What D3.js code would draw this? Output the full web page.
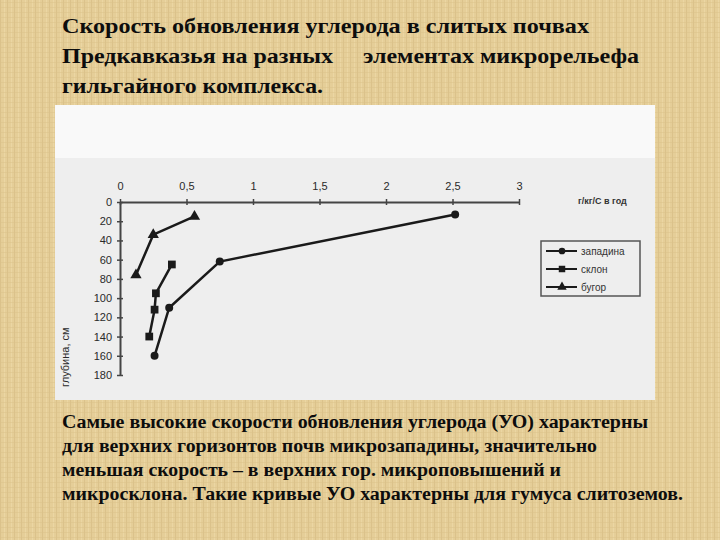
<!DOCTYPE html>
<html>
<head>
<meta charset="utf-8">
<script src="https://cdn.jsdelivr.net/npm/d3@7"></script>
<style>
  body { margin: 0; background: #e5ce98; }
  svg { display: block; }
</style>
</head>
<body>
<div id="chart"></div>
<script>
// data
var titleLines = ["Скорость обновления углерода в слитых почвах",
                  "Предкавказья на разных     элементах микрорельефа",
                  "гильгайного комплекса."];
var titleWidths = [527, 577, 261];
var noteLines = ["Самые высокие скорости обновления углерода (УО) характерны",
                 "для верхних горизонтов почв микрозападины, значительно",
                 "меньшая скорость – в верхних гор. микроповышений и",
                 "микросклона. Такие кривые УО характерны для гумуса слитоземов."];
var noteWidths = [586, 535, 499, 621];
var seriesNames = ["западина", "склон", "бугор"];
var zapadinaRate = [2.52, 0.75, 0.37, 0.26];
var zapadinaDepth = [13, 62, 110, 160];
var sklonRate = [0.39, 0.27, 0.26, 0.22];
var sklonDepth = [65, 95, 112, 140];
var bugorRate = [0.56, 0.25, 0.12];
var bugorDepth = [15, 34, 76];
var xTicks = [0, 0.5, 1, 1.5, 2, 2.5, 3];
var xTickLabels = ["0", "0,5", "1", "1,5", "2", "2,5", "3"];
var yTicks = [0, 20, 40, 60, 80, 100, 120, 140, 160, 180];
var xTitle = "г/кг/С в год";
var yTitle = "глубина, см";

var width = 720, height = 540;
var svg = d3.select("#chart").append("svg")
    .attr("width", width)
    .attr("height", height);

// parchment background
var defs = svg.append("defs");
var pat = defs.append("pattern")
    .attr("id", "cloth")
    .attr("patternUnits", "userSpaceOnUse")
    .attr("width", 7).attr("height", 5);
pat.append("rect").attr("width", 7).attr("height", 5).attr("fill", "#e5ce98");
pat.append("rect").attr("x", 0).attr("width", 1).attr("height", 5).attr("fill", "#d8be86").attr("opacity", 0.7);
pat.append("rect").attr("x", 4).attr("width", 1).attr("height", 5).attr("fill", "#eedaa9").attr("opacity", 0.7);
pat.append("rect").attr("y", 2).attr("width", 7).attr("height", 1).attr("fill", "#dbc28a").attr("opacity", 0.5);
svg.append("rect").attr("width", width).attr("height", height).attr("fill", "url(#cloth)");

// title
svg.append("g").selectAll("text")
    .data(titleLines)
    .join("text")
    .attr("x", 62)
    .attr("y", function(d, i) { return 33 + i * 30; })
    .attr("textLength", function(d, i) { return titleWidths[i]; })
    .attr("lengthAdjust", "spacingAndGlyphs")
    .attr("xml:space", "preserve")
    .style("white-space", "pre")
    .style("font-family", "'Liberation Serif', 'DejaVu Serif', serif")
    .style("font-weight", "bold")
    .style("font-size", "22px")
    .style("fill", "#0d0d0d")
    .text(function(d) { return d; });

// chart panel
svg.append("rect").attr("x", 55).attr("y", 105).attr("width", 600).attr("height", 295).attr("fill", "#eeeeee");
svg.append("rect").attr("x", 55).attr("y", 105).attr("width", 600).attr("height", 53).attr("fill", "#f9f9f9");

var x = d3.scaleLinear().domain([0, 3]).range([120, 519]);
var y = d3.scaleLinear().domain([0, 180]).range([202, 375]);

var xAxis = svg.append("g")
    .attr("transform", "translate(0," + y(0) + ")")
    .call(d3.axisTop(x).tickValues(xTicks)
        .tickFormat(function(d, i) { return xTickLabels[i]; })
        .tickSizeOuter(0).tickSizeInner(3).tickPadding(9));
xAxis.selectAll(".tick line").attr("y1", 3).attr("y2", -3);

var yAxis = svg.append("g")
    .attr("transform", "translate(" + x(0) + ",0)")
    .call(d3.axisLeft(y).tickValues(yTicks)
        .tickSizeOuter(0).tickSizeInner(3).tickPadding(5));
yAxis.selectAll(".tick line").attr("x1", 3).attr("x2", -3);

svg.selectAll(".domain").attr("stroke", "#444").attr("stroke-width", 2);
svg.selectAll(".tick line").attr("stroke", "#444").attr("stroke-width", 1.5);
svg.selectAll(".tick text")
    .style("font-family", "Arial, 'Liberation Sans', sans-serif")
    .style("font-size", "11px")
    .style("fill", "#2a2a2a");

svg.append("text")
    .attr("x", 578).attr("y", 204)
    .style("font-family", "Arial, 'Liberation Sans', sans-serif")
    .style("font-size", "9px")
    .style("font-weight", "bold")
    .style("fill", "#333")
    .text(xTitle);

svg.append("text")
    .attr("transform", "translate(69,387) rotate(-90)")
    .style("font-family", "Arial, 'Liberation Sans', sans-serif")
    .style("font-size", "11px")
    .style("fill", "#2a2a2a")
    .text(yTitle);

// series
var series = [
  { name: seriesNames[0], rate: zapadinaRate, depth: zapadinaDepth, shape: d3.symbolCircle, size: 50 },
  { name: seriesNames[1], rate: sklonRate, depth: sklonDepth, shape: d3.symbolSquare, size: 60 },
  { name: seriesNames[2], rate: bugorRate, depth: bugorDepth, shape: d3.symbolTriangle, size: 55 }
];

var line = d3.line()
    .x(function(d) { return x(d[0]); })
    .y(function(d) { return y(d[1]); });

series.forEach(function(s) {
  var pts = d3.zip(s.rate, s.depth);
  svg.append("path")
      .attr("d", line(pts))
      .attr("fill", "none")
      .attr("stroke", "#1a1a1a")
      .attr("stroke-width", 2.5);
  svg.append("g").selectAll("path")
      .data(pts)
      .join("path")
      .attr("transform", function(d) { return "translate(" + x(d[0]) + "," + y(d[1]) + ")"; })
      .attr("d", d3.symbol().type(s.shape).size(s.size))
      .attr("fill", "#1a1a1a");
});

// legend
var legend = svg.append("g").attr("transform", "translate(541,241)");
legend.append("rect")
    .attr("width", 99).attr("height", 55)
    .attr("fill", "#eeeeee")
    .attr("stroke", "#555").attr("stroke-width", 1.5);
var items = legend.selectAll("g.item")
    .data(series)
    .join("g")
    .attr("class", "item")
    .attr("transform", function(d, i) { return "translate(0," + (10 + i * 18) + ")"; });
items.append("line")
    .attr("x1", 5).attr("x2", 36)
    .attr("stroke", "#1a1a1a").attr("stroke-width", 2);
items.append("path")
    .attr("transform", "translate(21,0)")
    .attr("d", function(d) { return d3.symbol().type(d.shape).size(d.size * 0.7)(); })
    .attr("fill", "#1a1a1a");
items.append("text")
    .attr("x", 40).attr("y", 3.5)
    .style("font-family", "Arial, 'Liberation Sans', sans-serif")
    .style("font-size", "10px")
    .style("fill", "#333")
    .text(function(d) { return d.name; });

// note under the chart
svg.append("g").selectAll("text")
    .data(noteLines)
    .join("text")
    .attr("x", 62)
    .attr("y", function(d, i) { return 428 + i * 24; })
    .attr("textLength", function(d, i) { return noteWidths[i]; })
    .attr("lengthAdjust", "spacingAndGlyphs")
    .style("font-family", "'Liberation Serif', 'DejaVu Serif', serif")
    .style("font-weight", "bold")
    .style("font-size", "18px")
    .style("fill", "#0d0d0d")
    .text(function(d) { return d; });
</script>
</body>
</html>
